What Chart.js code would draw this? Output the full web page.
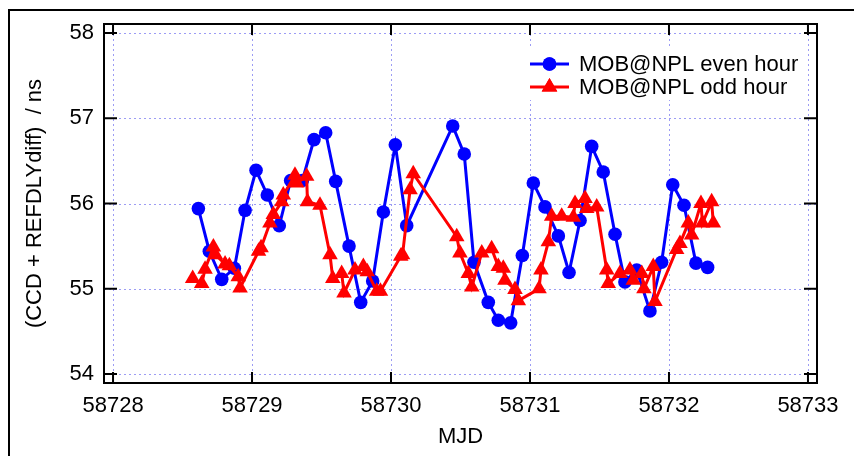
<!DOCTYPE html>
<html>
<head>
<meta charset="utf-8">
<script src="https://cdn.jsdelivr.net/npm/chart.js@4.4.1/dist/chart.umd.min.js"></script>
<style>
  body { margin: 0; background: #fff; }
  #chart { display: block; }
</style>
</head>
<body>
<canvas id="chart" width="854" height="456"></canvas>
<script>
// MOB@NPL even hour
const evenMjd = [
    58728.614, 58728.693, 58728.782, 58728.873, 58728.950, 58729.029, 58729.110, 58729.196,
    58729.278, 58729.362, 58729.446, 58729.530, 58729.602, 58729.698, 58729.782, 58729.868,
    58729.945, 58730.031, 58730.113, 58730.444, 58730.527, 58730.597, 58730.700, 58730.772,
    58730.861, 58730.945, 58731.024, 58731.108, 58731.204, 58731.281, 58731.360, 58731.444,
    58731.527, 58731.612, 58731.683, 58731.768, 58731.863, 58731.947, 58732.027, 58732.108,
    58732.194, 58732.278
];
const evenNs = [
    55.94, 55.44, 55.11, 55.24, 55.92, 56.39, 56.10, 55.74,
    56.27, 56.27, 56.75, 56.83, 56.26, 55.50, 54.84, 55.09,
    55.90, 56.69, 55.74, 56.91, 56.58, 55.31, 54.84, 54.63,
    54.60, 55.39, 56.24, 55.96, 55.62, 55.19, 55.80, 56.67,
    56.37, 55.64, 55.08, 55.22, 54.74, 55.31, 56.22, 55.98,
    55.30, 55.25
];

// MOB@NPL odd hour
const oddMjd = [
    58728.573, 58728.638, 58728.662, 58728.722, 58728.737, 58728.806, 58728.837, 58728.901,
    58728.914, 58729.047, 58729.065, 58729.129, 58729.153, 58729.214, 58729.225, 58729.309,
    58729.322, 58729.393, 58729.399, 58729.489, 58729.561, 58729.581, 58729.645, 58729.662,
    58729.741, 58729.801, 58729.829, 58729.897, 58729.924, 58730.070, 58730.083, 58730.137,
    58730.160, 58730.473, 58730.496, 58730.556, 58730.581, 58730.653, 58730.724, 58730.772,
    58730.808, 58730.820, 58730.892, 58730.916, 58731.065, 58731.079, 58731.132, 58731.156,
    58731.228, 58731.312, 58731.324, 58731.396, 58731.408, 58731.480, 58731.552, 58731.563,
    58731.647, 58731.719, 58731.743, 58731.804, 58731.820, 58731.887, 58731.899, 58732.055,
    58732.079, 58732.139, 58732.163, 58732.230, 58732.241, 58732.307, 58732.319
];
const oddNs = [
    55.12, 55.06, 55.23, 55.49, 55.40, 55.29, 55.27, 55.14,
    55.01, 55.44, 55.48, 55.77, 55.87, 56.02, 56.10, 56.33,
    56.24, 56.32, 56.02, 55.98, 55.40, 55.12, 55.18, 54.95,
    55.22, 55.26, 55.20, 54.97, 54.97, 55.38, 55.40, 56.16,
    56.35, 55.61, 55.42, 55.18, 55.02, 55.42, 55.47, 55.26,
    55.24, 55.10, 54.99, 54.86, 55.00, 55.22, 55.55, 55.85,
    55.85, 55.84, 56.00, 56.06, 55.94, 55.96, 55.22, 55.06,
    55.18, 55.22, 55.10, 55.18, 55.00, 55.26, 54.85, 55.46,
    55.53, 55.77, 55.63, 56.00, 55.77, 56.02, 55.77
];

const xTicks = [58728, 58729, 58730, 58731, 58732, 58733];
const yTicks = [54, 55, 56, 57, 58];

const toPoints = (xs, ys) => xs.map((x, i) => ({ x: x, y: ys[i] }));

// gnuplot-like box, inward ticks, dotted grid and key
const gnuplotLook = {
    id: 'gnuplotLook',
    beforeDraw(chart) {
        const ctx = chart.ctx;
        ctx.save();
        ctx.fillStyle = '#fff';
        ctx.fillRect(0, 0, chart.width, chart.height);
        ctx.strokeStyle = '#000';
        ctx.lineWidth = 2;
        ctx.strokeRect(9, 10, chart.width + 20, chart.height + 20);
        ctx.restore();
    },
    beforeDatasetsDraw(chart) {
        const { ctx, chartArea: a, scales: { x, y } } = chart;
        ctx.save();
        ctx.strokeStyle = '#9c9cf4';
        ctx.lineWidth = 1;
        ctx.setLineDash([2, 3]);
        ctx.beginPath();
        xTicks.forEach(v => {
            const px = Math.round(x.getPixelForValue(v)) + 0.5;
            ctx.moveTo(px, a.top);
            ctx.lineTo(px, a.bottom);
        });
        yTicks.forEach(v => {
            const py = Math.round(y.getPixelForValue(v)) + 0.5;
            ctx.moveTo(a.left, py);
            ctx.lineTo(a.right, py);
        });
        ctx.stroke();
        ctx.restore();
    },
    afterDatasetsDraw(chart) {
        const { ctx, chartArea: a, scales: { x, y } } = chart;
        ctx.save();
        ctx.strokeStyle = '#000';
        ctx.lineWidth = 2;
        ctx.strokeRect(a.left, a.top, a.right - a.left, a.bottom - a.top);
        ctx.beginPath();
        xTicks.forEach(v => {
            const px = x.getPixelForValue(v);
            ctx.moveTo(px, a.bottom);
            ctx.lineTo(px, a.bottom - 11);
            ctx.moveTo(px, a.top);
            ctx.lineTo(px, a.top + 11);
        });
        yTicks.forEach(v => {
            const py = y.getPixelForValue(v);
            ctx.moveTo(a.left, py);
            ctx.lineTo(a.left + 13, py);
            ctx.moveTo(a.right, py);
            ctx.lineTo(a.right - 13, py);
        });
        ctx.stroke();

        // key
        ctx.fillStyle = '#fff';
        ctx.fillRect(522, 49, 278, 51);
        const rows = [
            { ds: chart.data.datasets[1], y: 64 },
            { ds: chart.data.datasets[0], y: 87 }
        ];
        rows.forEach(r => {
            ctx.strokeStyle = r.ds.borderColor;
            ctx.lineWidth = 3;
            ctx.beginPath();
            ctx.moveTo(530, r.y);
            ctx.lineTo(569, r.y);
            ctx.stroke();
            ctx.fillStyle = r.ds.borderColor;
            Chart.helpers.drawPoint(ctx, {
                pointStyle: r.ds.pointStyle,
                radius: r.ds.pointRadius,
                rotation: 0,
                borderWidth: 0
            }, 549.5, r.y);
            ctx.fill();
            ctx.fillStyle = '#000';
            ctx.font = '22px "Liberation Sans", Arial, sans-serif';
            ctx.textAlign = 'left';
            ctx.textBaseline = 'middle';
            ctx.fillText(r.ds.label, 579, r.y + 1);
        });
        ctx.restore();
    }
};

Chart.defaults.font.family = '"Liberation Sans", Arial, sans-serif';
Chart.defaults.font.size = 22;
Chart.defaults.color = '#000';

new Chart(document.getElementById('chart'), {
    type: 'line',
    data: {
        datasets: [
            {
                label: 'MOB@NPL odd hour',
                data: toPoints(oddMjd, oddNs),
                borderColor: '#ff0000',
                backgroundColor: '#ff0000',
                borderWidth: 3,
                pointStyle: 'triangle',
                pointRadius: 9,
                pointBorderWidth: 0,
                tension: 0
            },
            {
                label: 'MOB@NPL even hour',
                data: toPoints(evenMjd, evenNs),
                borderColor: '#0000ff',
                backgroundColor: '#0000ff',
                borderWidth: 3,
                pointStyle: 'circle',
                pointRadius: 6.8,
                pointBorderWidth: 0,
                tension: 0
            }
        ]
    },
    options: {
        responsive: false,
        animation: false,
        devicePixelRatio: 1,
        layout: { padding: { top: 24, right: 37, left: 0, bottom: 0 } },
        plugins: {
            legend: { display: false },
            tooltip: { enabled: false }
        },
        scales: {
            x: {
                type: 'linear',
                min: 58727.935,
                max: 58733.065,
                afterBuildTicks: s => { s.ticks = xTicks.map(v => ({ value: v })); },
                afterFit: s => { s.height = 73; },
                grid: { display: false, drawTicks: false },
                border: { display: false },
                ticks: {
                    padding: 10,
                    maxRotation: 0,
                    autoSkip: false,
                    callback: v => String(v)
                },
                title: {
                    display: true,
                    text: 'MJD',
                    padding: { top: 0, bottom: 6 }
                }
            },
            y: {
                min: 53.894,
                max: 58.106,
                afterBuildTicks: s => { s.ticks = yTicks.map(v => ({ value: v })); },
                afterFit: s => { s.width = 104; },
                grid: { display: false, drawTicks: false },
                border: { display: false },
                ticks: {
                    padding: 10,
                    callback: v => String(v)
                },
                title: {
                    display: true,
                    text: '(CCD + REFDLYdiff)  / ns',
                    padding: { top: 22, bottom: 0 }
                }
            }
        }
    },
    plugins: [gnuplotLook]
});
</script>
</body>
</html>
